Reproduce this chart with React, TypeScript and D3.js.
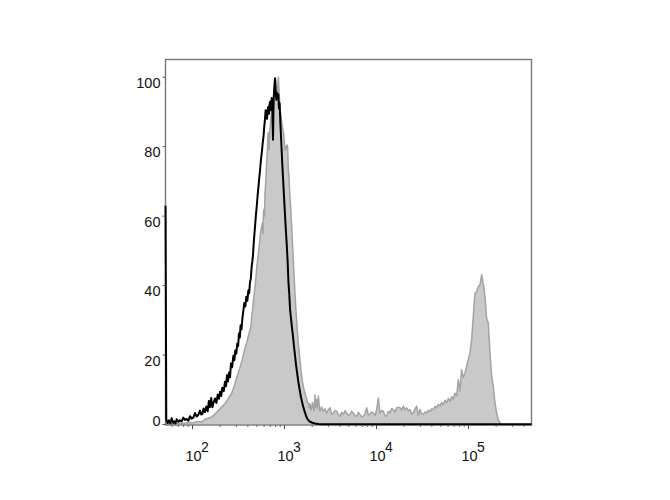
import React from 'react';
import * as d3 from 'd3';

const W = 670;
const H = 500;

// log10 of fluorescence intensity for each histogram point, and % of max count
const grayLogX = [
  1.707, 1.8, 1.846, 1.9, 1.955, 2.0, 2.063, 2.1, 2.136, 2.17, 2.208, 2.245, 2.281, 2.317, 2.353, 2.39, 2.426, 2.453, 2.48, 2.511,
  2.542, 2.565, 2.589, 2.612, 2.636, 2.645, 2.654, 2.663, 2.672, 2.681, 2.69, 2.699, 2.708, 2.719, 2.73, 2.741, 2.752, 2.759, 2.766, 2.772,
  2.777, 2.783, 2.788, 2.794, 2.799, 2.805, 2.81, 2.816, 2.821, 2.826, 2.832, 2.839, 2.846, 2.853, 2.861, 2.868, 2.875, 2.882, 2.889, 2.897,
  2.904, 2.911, 2.918, 2.926, 2.933, 2.94, 2.947, 2.955, 2.962, 2.969, 2.976, 2.984, 2.991, 2.998, 3.005, 3.013, 3.02, 3.027, 3.034, 3.042,
  3.049, 3.056, 3.063, 3.071, 3.078, 3.087, 3.096, 3.105, 3.114, 3.123, 3.132, 3.141, 3.15, 3.159, 3.168, 3.178, 3.187, 3.196, 3.205, 3.214,
  3.223, 3.232, 3.241, 3.25, 3.259, 3.268, 3.277, 3.286, 3.295, 3.304, 3.313, 3.322, 3.331, 3.34, 3.349, 3.358, 3.368, 3.377, 3.386, 3.404,
  3.422, 3.44, 3.458, 3.477, 3.495, 3.513, 3.531, 3.549, 3.567, 3.585, 3.603, 3.621, 3.64, 3.658, 3.676, 3.694, 3.712, 3.73, 3.748, 3.767,
  3.785, 3.803, 3.821, 3.839, 3.857, 3.875, 3.893, 3.911, 3.929, 3.947, 3.966, 3.984, 4.002, 4.02, 4.038, 4.056, 4.074, 4.092, 4.111, 4.129,
  4.147, 4.165, 4.183, 4.201, 4.219, 4.238, 4.256, 4.274, 4.292, 4.31, 4.328, 4.346, 4.364, 4.382, 4.4, 4.418, 4.437, 4.455, 4.473, 4.491,
  4.509, 4.527, 4.545, 4.564, 4.582, 4.6, 4.618, 4.636, 4.654, 4.672, 4.69, 4.708, 4.726, 4.745, 4.763, 4.781, 4.799, 4.817, 4.835, 4.853,
  4.871, 4.889, 4.907, 4.925, 4.944, 4.962, 4.98, 4.998, 5.016, 5.034, 5.052, 5.07, 5.089, 5.107, 5.125, 5.143, 5.161, 5.179, 5.197, 5.215,
  5.234, 5.252, 5.27, 5.288, 5.306, 5.324, 5.342, 5.36, 5.685,
];
const grayCount = [
  0.3, 0.2, 0.4, 0.3, 0.6, 0.5, 0.9, 0.7, 1.5, 1.8, 2.2, 3.0, 4.0, 5.0, 6.0, 7.5, 9.0, 11.0, 13.5, 16.0,
  18.7, 21.5, 23.5, 26.0, 28.3, 31.5, 33.0, 36.0, 37.8, 40.0, 42.5, 45.5, 47.4, 50.0, 52.5, 55.5, 57.0, 58.0, 55.0, 61.5,
  62.0, 60.0, 66.5, 69.0, 71.0, 75.0, 77.0, 80.0, 84.0, 82.0, 79.0, 84.0, 86.0, 88.5, 90.0, 86.0, 88.0, 92.0, 95.0, 97.0,
  99.0, 96.0, 94.0, 97.0, 100.0, 96.5, 93.0, 90.0, 89.0, 87.0, 86.0, 84.5, 84.0, 81.5, 79.0, 80.0, 79.5, 80.5, 80.0, 73.5,
  71.5, 67.0, 64.0, 60.5, 57.0, 52.0, 47.4, 42.5, 37.8, 33.5, 30.0, 26.5, 23.5, 21.0, 18.7, 16.0, 14.0, 12.2, 11.0, 9.8,
  9.1, 8.0, 7.5, 6.4, 6.2, 4.8, 6.0, 4.2, 4.5, 6.3, 5.3, 4.0, 8.5, 5.0, 7.2, 4.6, 8.2, 5.5, 3.8, 5.0,
  3.8, 4.5, 3.3, 4.2, 4.8, 3.0, 3.3, 4.0, 3.8, 2.8, 2.4, 3.5, 2.9, 4.0, 3.3, 2.6, 2.9, 3.8, 3.3, 2.5,
  2.4, 3.5, 2.9, 2.2, 2.4, 3.0, 4.8, 2.8, 2.9, 3.6, 3.3, 2.6, 4.3, 7.6, 3.3, 4.0, 3.8, 2.6, 2.4, 3.8,
  3.3, 4.6, 4.3, 3.6, 4.8, 5.0, 4.8, 4.2, 5.3, 4.3, 4.8, 3.9, 4.3, 3.0, 3.3, 4.5, 5.3, 2.6, 4.3, 3.0,
  2.9, 3.6, 3.3, 4.1, 3.8, 4.5, 4.3, 5.2, 4.8, 5.8, 5.3, 6.3, 5.7, 7.0, 6.2, 7.5, 6.7, 8.0, 7.2, 9.0,
  8.2, 12.9, 9.6, 15.8, 13.5, 14.8, 16.7, 18.7, 20.6, 24.4, 31.1, 37.8, 38.3, 39.7, 40.2, 43.1, 40.5, 37.0, 30.6, 29.2,
  20.6, 13.9, 11.0, 6.2, 3.3, 1.4, 0.5, 0.0, 0.0,
];

const blackLogX = [
  1.707, 1.715, 1.73, 1.744, 1.76, 1.773, 1.79, 1.802, 1.815, 1.828, 1.846, 1.864, 1.882, 1.9, 1.918, 1.936, 1.955, 1.973, 1.991, 2.009,
  2.027, 2.045, 2.063, 2.081, 2.094, 2.107, 2.12, 2.136, 2.15, 2.165, 2.178, 2.19, 2.203, 2.216, 2.23, 2.245, 2.26, 2.274, 2.287, 2.299,
  2.312, 2.324, 2.34, 2.353, 2.364, 2.375, 2.386, 2.397, 2.408, 2.418, 2.431, 2.444, 2.455, 2.465, 2.476, 2.487, 2.496, 2.505, 2.514, 2.523,
  2.533, 2.542, 2.552, 2.563, 2.574, 2.585, 2.596, 2.607, 2.616, 2.625, 2.634, 2.643, 2.65, 2.658, 2.665, 2.672, 2.681, 2.69, 2.699, 2.708,
  2.717, 2.726, 2.735, 2.745, 2.754, 2.763, 2.772, 2.781, 2.788, 2.795, 2.803, 2.81, 2.817, 2.824, 2.832, 2.839, 2.846, 2.853, 2.861, 2.868,
  2.875, 2.882, 2.889, 2.897, 2.904, 2.911, 2.918, 2.926, 2.933, 2.94, 2.947, 2.955, 2.962, 2.969, 2.976, 2.984, 2.991, 2.998, 3.007, 3.016,
  3.025, 3.034, 3.043, 3.052, 3.061, 3.071, 3.081, 3.092, 3.103, 3.114, 3.126, 3.139, 3.152, 3.165, 3.178, 3.19, 3.203, 3.216, 3.228, 3.241,
  3.259, 3.277, 3.304, 3.331, 3.368, 3.404, 5.685,
];
const blackCount = [
  63.0, 1.5, 0.4, 1.2, 0.3, 1.8, 0.5, 0.9, 0.3, 1.5, 0.8, 1.2, 0.9, 2.0, 1.3, 1.6, 1.1, 2.4, 1.7, 2.0,
  3.3, 2.3, 2.8, 4.0, 2.9, 3.0, 4.6, 3.6, 5.2, 3.8, 6.8, 5.0, 7.6, 5.0, 6.4, 7.5, 6.2, 8.6, 7.4, 9.4,
  8.2, 10.6, 9.6, 12.3, 11.0, 14.2, 12.4, 15.0, 13.6, 17.6, 16.5, 19.8, 18.5, 21.3, 20.4, 23.3, 22.6, 26.2, 25.0, 28.6,
  27.4, 30.5, 32.6, 35.0, 34.0, 36.8, 35.6, 38.6, 37.8, 41.0, 42.0, 45.5, 46.8, 49.0, 52.0, 54.5, 57.5, 60.5, 63.0, 66.0,
  68.5, 71.0, 73.5, 76.5, 78.5, 81.0, 83.0, 86.0, 88.0, 90.5, 89.0, 88.0, 90.5, 91.5, 89.5, 92.5, 93.0, 90.5, 94.0, 92.0,
  82.0, 93.5, 97.0, 99.7, 96.0, 93.5, 95.5, 94.0, 95.0, 91.0, 92.5, 87.0, 83.0, 79.0, 75.0, 71.0, 67.5, 64.0, 59.5, 55.5,
  51.5, 47.0, 41.0, 37.5, 33.0, 30.5, 28.0, 25.5, 22.5, 20.0, 17.0, 14.5, 12.0, 10.0, 8.0, 6.6, 5.2, 4.0, 3.0, 2.0,
  1.2, 0.8, 0.5, 0.3, 0.15, 0.1, 0.1,
];

const yTickValues = [0, 20, 40, 60, 80, 100];
const xDecadeExponents = [2, 3, 4, 5];
const minorMultipliers = [2, 3, 4, 5, 6, 7, 8, 9];
const minorDecades = [1, 2, 3, 4, 5];

const PLOT = { left: 165.5, right: 531.5, top: 59.5, bottom: 425 };
const FONT = '"Liberation Sans", Arial, sans-serif';

export default function App() {
  const x = d3
    .scaleLog()
    .domain([Math.pow(10, 1.7065), Math.pow(10, 5.685)])
    .range([PLOT.left, PLOT.right]);
  const y = d3.scaleLinear().domain([0, 105.1]).range([424.5, PLOT.top]);

  const gray = grayLogX.map((e, i) => ({ v: Math.pow(10, e), c: grayCount[i] }));
  const black = blackLogX.map((e, i) => ({ v: Math.pow(10, e), c: blackCount[i] }));

  const area = d3
    .area<{ v: number; c: number }>()
    .x((d) => x(d.v))
    .y0(y(0))
    .y1((d) => y(d.c));
  const line = d3
    .line<{ v: number; c: number }>()
    .x((d) => x(d.v))
    .y((d) => y(d.c));

  const [dMin, dMax] = x.domain();
  const minors: number[] = [];
  minorDecades.forEach((d) =>
    minorMultipliers.forEach((m) => {
      const v = m * Math.pow(10, d);
      if (v >= dMin && v <= dMax) minors.push(v);
    })
  );

  return (
    <svg
      width={W}
      height={H}
      style={{ position: 'absolute', left: 0, top: 0, background: '#fff' }}
    >
      <rect x={0} y={0} width={W} height={H} fill="#fff" />
      <path d={area(gray) || ''} fill="#c9c9c9" stroke="none" />
      <path d={line(gray) || ''} fill="none" stroke="#a3a3a3" strokeWidth={1.5} strokeLinejoin="round" />
      {/* frame */}
      <rect
        x={PLOT.left}
        y={PLOT.top}
        width={PLOT.right - PLOT.left}
        height={PLOT.bottom - PLOT.top}
        fill="none"
        stroke="#777"
        strokeWidth={1.4}
      />
      <path d={line(black) || ''} fill="none" stroke="#000" strokeWidth={2} strokeLinejoin="round" />
      {/* y axis ticks */}
      {yTickValues.map((t) => (
        <g key={'y' + t}>
          <line x1={PLOT.left - 3} x2={PLOT.left} y1={y(t)} y2={y(t)} stroke="#555" strokeWidth={1} />
          <text
            x={PLOT.left - 5}
            y={t === 0 ? y(t) + 1 : y(t) + 10.5}
            textAnchor="end"
            fontFamily={FONT}
            fontSize={14.5}
            fill="#111"
          >
            {t}
          </text>
        </g>
      ))}
      {/* x axis minor ticks */}
      {minors.map((v, i) => (
        <line key={'m' + i} x1={x(v)} x2={x(v)} y1={PLOT.bottom} y2={PLOT.bottom + 2} stroke="#666" strokeWidth={1} />
      ))}
      {xDecadeExponents.map((e) => {
        const px = x(Math.pow(10, e));
        return (
          <g key={'x' + e}>
            <line x1={px} x2={px} y1={PLOT.bottom} y2={PLOT.bottom + 4} stroke="#444" strokeWidth={1} />
            <text x={px + 1} y={460.5} textAnchor="middle" fontFamily={FONT} fontSize={14.5} fill="#111">
              10
            </text>
            <text x={px + 8.5} y={451.5} textAnchor="start" fontFamily={FONT} fontSize={14} fill="#111">
              {e}
            </text>
          </g>
        );
      })}
    </svg>
  );
}
